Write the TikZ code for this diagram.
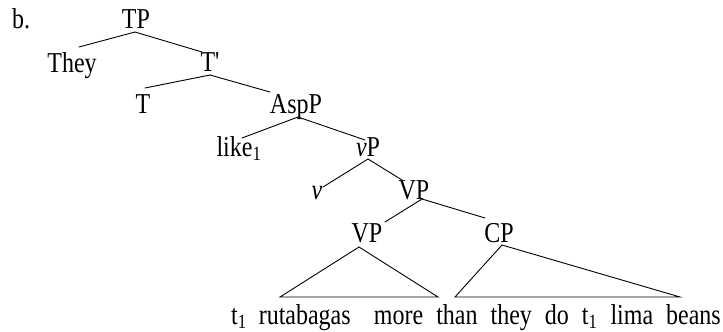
\documentclass[tikz,border=0pt]{standalone}
\usepackage{fontspec}
\setmainfont{Liberation Serif}[Ligatures=TeXOff]
\newcommand\tallt[1]{\scalebox{1}[1.2]{#1}}
\begin{document}
\begin{tikzpicture}[x=1pt,y=-1pt,
  lab/.style={inner sep=0pt,anchor=base,font=\fontsize{24}{26}\selectfont},
  edge/.style={line width=0.9pt,line cap=round}]
\useasboundingbox (0,0) rectangle (723,332);
% labels (anchor = base)
\node[lab,anchor=base west] (b) at (12,28) {\tallt{b.}};
\node[lab] (TP) at (136,28) {\tallt{TP}};
\node[lab] (They) at (72,72) {\tallt{They}};
\node[lab] (Tb) at (210,71) {\tallt{T'}};
\node[lab] (T) at (143,113) {\tallt{T}};
\node[lab] (AspP) at (296,113) {\tallt{AspP}};
\node[lab] (like) at (239,156) {\tallt{like\textsubscript{1}}};
\node[lab] (vP) at (368,156) {\tallt{\textit{v}P}};
\node[lab] (v) at (317,199) {\tallt{\textit{v}}};
\node[lab] (VP) at (414,199) {\tallt{VP}};
\node[lab] (VPl) at (367,242) {\tallt{VP}};
\node[lab] (CP) at (499,242) {\tallt{CP}};
\node[lab,anchor=base west] (lt) at (231,324) {\tallt{\spaceskip=12pt t\textsubscript{1} rutabagas}};
\node[lab,anchor=base east] (rt) at (721,324) {\tallt{\spaceskip=13pt more than they do t\textsubscript{1} lima beans}};
% attachment points
\coordinate (TPs) at (135,32);
\coordinate (Theyn) at (79,47);
\coordinate (Tbn) at (202,52);
\coordinate (Tbs) at (210,75);
\coordinate (Tn) at (145,88);
\coordinate (AspPn) at (270,92);
\coordinate (AspPs) at (298,117);
\coordinate (liken) at (242,138);
\coordinate (vPn) at (365,140);
\coordinate (vPs) at (368,159);
\coordinate (vn) at (323,187);
\coordinate (VPn) at (402,180);
\coordinate (VPs) at (422,199);
\coordinate (VPln) at (385,222);
\coordinate (CPn) at (485,218);
\coordinate (VPls) at (359,247);
\coordinate (CPs) at (502,245);
\coordinate (L1) at (280,297);
\coordinate (L2) at (438,297);
\coordinate (R1) at (455,297);
\coordinate (R2) at (680,297);
% edges
\draw[edge] (TPs) -- (Theyn);
\draw[edge] (TPs) -- (Tbn);
\draw[edge] (Tbs) -- (Tn);
\draw[edge] (Tbs) -- (AspPn);
\draw[edge] (AspPs) -- (liken);
\draw[edge] (AspPs) -- (vPn);
\draw[edge] (vPs) -- (vn);
\draw[edge] (vPs) -- (VPn);
\draw[edge] (VPs) -- (VPln);
\draw[edge] (VPs) -- (CPn);
\draw[edge] (VPls) -- (L1) -- (L2) -- cycle;
\draw[edge] (CPs) -- (R1) -- (R2) -- cycle;
\end{tikzpicture}
\end{document}
